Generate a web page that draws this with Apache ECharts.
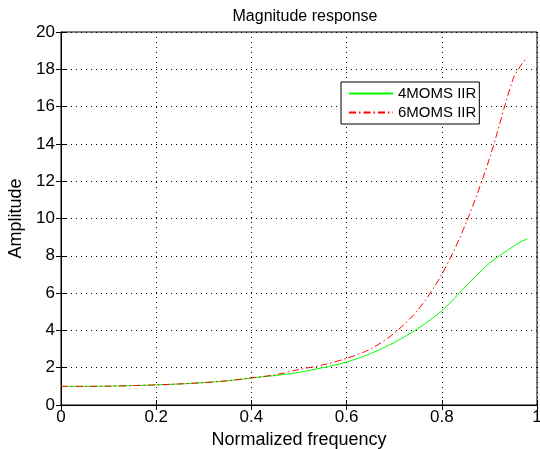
<!DOCTYPE html>
<html>
<head>
<meta charset="utf-8">
<script src="https://cdn.jsdelivr.net/npm/echarts@6/dist/echarts.min.js"></script>
<style>
html, body { margin: 0; padding: 0; background: #fff; }
#chart { width: 540px; height: 449px; }
</style>
</head>
<body>
<div id="chart"></div>
<script>
// normalized frequency samples
const freq = [0, 0.05, 0.1, 0.15, 0.2, 0.25, 0.3, 0.35, 0.4, 0.45, 0.5, 0.55, 0.6, 0.65, 0.7, 0.75, 0.8, 0.85, 0.9, 0.95, 0.97, 0.98];
// 4MOMS IIR amplitude
const moms4 = [1.0, 1.0, 1.01, 1.04, 1.08, 1.13, 1.2, 1.3, 1.45, 1.58, 1.75, 2.0, 2.3, 2.75, 3.35, 4.1, 5.05, 6.35, 7.6, 8.5, 8.8, 8.9];
// 6MOMS IIR amplitude
const moms6 = [1.0, 1.0, 1.01, 1.04, 1.08, 1.13, 1.2, 1.3, 1.45, 1.62, 1.9, 2.15, 2.5, 3.0, 3.85, 5.1, 7.0, 9.7, 13.2, 17.5, 18.35, 18.65];

const xTicks = [0, 0.2, 0.4, 0.6, 0.8, 1];
const yTicks = [0, 2, 4, 6, 8, 10, 12, 14, 16, 18, 20];

const font = 'Liberation Sans, Arial, sans-serif';

const chart = echarts.init(document.getElementById('chart'));

const gridLine = { show: true, lineStyle: { color: '#000', type: [1, 4], width: 1 } };

const option = {
  animation: false,
  title: {
    text: 'Magnitude response',
    left: 300, top: 4, textAlign: 'center',
    textStyle: { fontFamily: font, fontSize: 16, fontWeight: 'normal', color: '#000' }
  },
  legend: {
    orient: 'vertical',
    left: 341, top: 82,
    padding: [4, 3, 4, 7],
    itemGap: 4,
    itemWidth: 44, itemHeight: 15,
    borderColor: '#000', borderWidth: 1,
    backgroundColor: '#fff',
    itemStyle: { opacity: 0 },
    textStyle: { fontFamily: font, fontSize: 15, color: '#000' },
    data: ['4MOMS IIR', '6MOMS IIR']
  },
  grid: { left: 61, right: 3, top: 32, bottom: 44, show: true, borderColor: '#000', borderWidth: 1,
    outerBoundsMode: 'none', containLabel: false },
  xAxis: [{
    type: 'value', min: 0, max: 1, interval: 0.2,
    name: 'Normalized frequency', nameLocation: 'middle', nameGap: 25,
    nameTextStyle: { fontFamily: font, fontSize: 18, color: '#000' },
    axisLine: { show: true, lineStyle: { color: '#000' } },
    axisTick: { show: true, inside: true, length: 5, lineStyle: { color: '#000' } },
    axisLabel: { fontFamily: font, fontSize: 17, color: '#000', margin: 4,
      formatter: v => xTicks.includes(+v.toFixed(1)) ? String(+v.toFixed(1)) : '' },
    splitLine: gridLine
  }, {
    type: 'value', min: 0, max: 1, interval: 0.2, position: 'top',
    axisLine: { show: true, lineStyle: { color: '#000' } },
    axisTick: { show: true, inside: true, length: 5, lineStyle: { color: '#000' } },
    axisLabel: { show: false }, splitLine: { show: false }
  }],
  yAxis: [{
    type: 'value', min: 0, max: 20, interval: 2,
    name: 'Amplitude', nameLocation: 'middle', nameGap: 33, nameRotate: 90,
    nameTextStyle: { fontFamily: font, fontSize: 18, color: '#000' },
    axisLine: { show: true, lineStyle: { color: '#000' } },
    axisTick: { show: true, inside: true, length: 5, lineStyle: { color: '#000' } },
    axisLabel: { fontFamily: font, fontSize: 17, color: '#000', margin: 6,
      formatter: v => yTicks.includes(v) ? String(v) : '' },
    splitLine: gridLine
  }, {
    type: 'value', min: 0, max: 20, interval: 2, position: 'right',
    axisLine: { show: true, lineStyle: { color: '#000' } },
    axisTick: { show: true, inside: true, length: 5, lineStyle: { color: '#000' } },
    axisLabel: { show: false }, splitLine: { show: false }
  }],
  series: [{
    name: '4MOMS IIR', type: 'line', smooth: 0.3,
    showSymbol: false, symbol: 'none',
    color: '#00ff00',
    lineStyle: { color: '#00ff00', width: 1 },
    data: freq.map((f, i) => [f, moms4[i]])
  }, {
    name: '6MOMS IIR', type: 'line', smooth: 0.3,
    showSymbol: false, symbol: 'none',
    color: '#ff0000',
    lineStyle: { color: '#ff0000', width: 1, type: [7, 3, 1.5, 3] },
    data: freq.map((f, i) => [f, moms6[i]])
  }]
};

chart.setOption(option);
</script>
</body>
</html>
